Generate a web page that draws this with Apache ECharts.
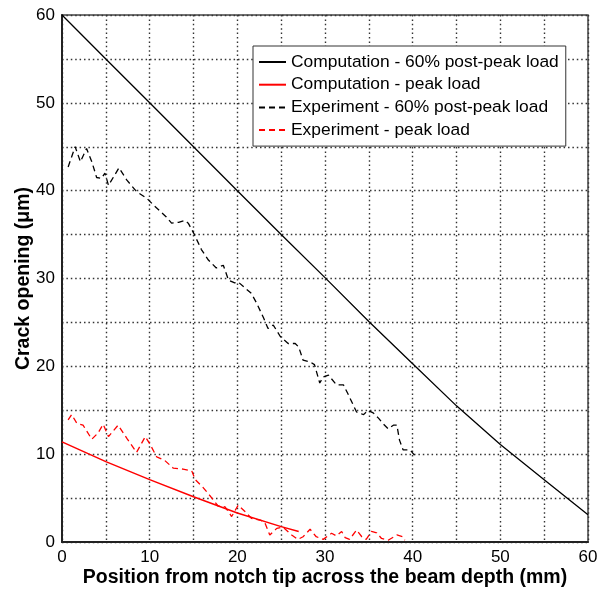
<!DOCTYPE html>
<html>
<head>
<meta charset="utf-8">
<script src="https://cdn.jsdelivr.net/npm/echarts@6/dist/echarts.min.js"></script>
<style>
  html, body { margin: 0; padding: 0; background: #fff; }
  #chart { width: 609px; height: 591px; }
</style>
</head>
<body>
<div id="chart"></div>
<script>
// Crack opening profiles along the beam depth
var seriesNames = [
  'Computation - 60% post-peak load',
  'Computation - peak load',
  'Experiment - 60% post-peak load',
  'Experiment - peak load'
];

// Computed profile, 60% post-peak load
var compPostX = [0, 5, 10, 15, 20, 25, 30, 35, 40, 45, 50, 55, 60];
var compPostY = [60, 55, 50, 45, 40, 35, 30.1, 25.1, 20.3, 15.5, 11.1, 7.1, 3.1];

// Computed profile, peak load
var compPeakX = [0, 5, 10, 15, 20, 25, 27];
var compPeakY = [11.4, 9.15, 7.1, 5.15, 3.3, 1.75, 1.2];

// Measured profile, 60% post-peak load
var expPostX = [0.7, 1.5, 2.1, 2.8, 3.4, 3.95, 4.5, 4.9, 5.3, 6.5, 7.4, 8.5, 9.7, 10.4, 11.9, 12.5,
  13.3, 14.0, 14.4, 15.0, 15.9, 16.7, 17.6, 18.4, 19.0, 19.7, 20.1, 20.9, 21.6, 22.2, 23.0, 23.5,
  24.1, 24.9, 25.8, 26.6, 27.0, 27.5, 28.3, 28.8, 29.4, 29.8, 30.4, 31.3, 32.1, 32.6, 33.6, 34.4,
  34.9, 35.5, 36.1, 36.6, 37.2, 37.8, 38.2, 38.5, 38.9, 39.7, 40.2];
var expPostY = [42.7, 45.0, 43.3, 44.8, 43.3, 41.5, 41.4, 42.0, 40.6, 42.6, 41.2, 39.9, 39.1, 38.4, 37.0, 36.3,
  36.4, 36.6, 36.3, 35.2, 33.3, 32.1, 31.2, 31.5, 29.8, 29.5, 29.6, 28.9, 28.3, 27.2, 25.5, 24.3,
  24.7, 23.4, 22.6, 22.6, 22.2, 20.7, 20.5, 20.2, 18.1, 18.8, 19.0, 17.9, 17.9, 16.9, 14.8, 14.5,
  15.0, 14.7, 14.1, 13.5, 12.9, 13.3, 13.3, 11.6, 10.5, 10.5, 9.9];

// Measured profile, peak load
var expPeakX = [0.7, 1.1, 1.7, 2.4, 3.4, 4.1, 4.7, 5.3, 6.4, 7.4, 8.5, 9.5, 10.0, 10.8, 11.7, 12.7,
  13.8, 14.8, 15.2, 16.1, 17.1, 17.8, 18.6, 19.35, 20.1, 20.9, 21.6, 22.6, 23.1, 23.7, 24.5, 25.2,
  26.2, 26.9, 27.5, 28.3, 29.0, 29.8, 30.75, 31.3, 31.9, 32.3, 32.8, 33.6, 34.2, 34.7, 35.3, 35.9,
  36.45, 37.2, 38.2, 38.9, 39.1];
var expPeakY = [13.9, 14.5, 13.5, 13.3, 11.7, 12.4, 13.4, 12.0, 13.3, 11.8, 10.2, 12.0, 11.2, 9.7, 9.3, 8.4,
  8.3, 8.1, 7.1, 6.2, 5.0, 4.1, 4.0, 2.9, 4.2, 3.45, 2.7, 2.5, 2.3, 0.8, 1.55, 1.7,
  0.8, 0.3, 0.6, 1.45, 0.6, 0.3, 1.0, 0.7, 1.2, 0.5, 0.3, 1.35, 0.6, 0.3, 1.2, 1.05,
  0.4, 0.2, 0.8, 0.6, 0.2];

// Axis ticks (grid every 5, labels every 10)
var axisMin = 0, axisMax = 60, gridStep = 5, labelStep = 10;
var xTitle = 'Position from notch tip across the beam depth (mm)';
var yTitle = 'Crack opening (\u03bcm)';

function zip(xs, ys) {
  return xs.map(function (x, i) { return [x, ys[i]]; });
}

var FONT = "'Liberation Sans', Arial, Helvetica, sans-serif";

function axisBase(name, gap) {
  return {
    type: 'value',
    min: axisMin,
    max: axisMax,
    interval: gridStep,
    name: name,
    nameLocation: 'middle',
    nameGap: gap,
    nameMoveOverlap: false,
    nameTextStyle: { fontFamily: FONT, fontWeight: 'bold', fontSize: 19.5, color: '#000' },
    axisLine: { show: true, onZero: false, lineStyle: { color: '#222', width: 2 } },
    axisTick: { show: false },
    axisLabel: {
      fontFamily: FONT, fontSize: 17, color: '#000', margin: 7,
      formatter: function (v) { return v % labelStep === 0 ? String(v) : ''; }
    },
    splitLine: { show: true, lineStyle: { color: '#333', width: 1.4, type: [1.5, 2.9] } }
  };
}

var chart = echarts.init(document.getElementById('chart'), null, { renderer: 'canvas' });

chart.setOption({
  animation: false,
  backgroundColor: '#fff',
  grid: {
    left: 62, right: 21, top: 15, bottom: 49,
    containLabel: false,
    outerBoundsMode: 'none',
    show: true, borderColor: '#444', borderWidth: 1.5, backgroundColor: 'transparent'
  },
  xAxis: axisBase(xTitle, 26),
  yAxis: axisBase(yTitle, 28),
  legend: {
    orient: 'vertical',
    left: 253, top: 46,
    data: seriesNames,
    backgroundColor: '#fff',
    borderColor: '#333', borderWidth: 1, borderRadius: 0,
    padding: [6, 7, 6, 5],
    itemWidth: 27, itemHeight: 20, itemGap: 2.7,
    // keep only the line sample in each legend key
    itemStyle: { color: 'transparent', borderColor: 'transparent', borderWidth: 0, opacity: 0 },
    textStyle: { fontFamily: FONT, fontSize: 17.4, color: '#000', lineHeight: 20 },
    selectedMode: false
  },
  series: [
    {
      name: seriesNames[0], type: 'line', data: zip(compPostX, compPostY),
      symbol: 'none', smooth: false,
      lineStyle: { color: '#000', width: 1.3, type: 'solid' },
      itemStyle: { color: '#000' }
    },
    {
      name: seriesNames[1], type: 'line', data: zip(compPeakX, compPeakY),
      symbol: 'none', smooth: false,
      lineStyle: { color: '#ff0000', width: 1.5, type: 'solid' },
      itemStyle: { color: '#ff0000' }
    },
    {
      name: seriesNames[2], type: 'line', data: zip(expPostX, expPostY),
      symbol: 'none', smooth: false,
      lineStyle: { color: '#000', width: 1.3, type: [6, 4] },
      itemStyle: { color: '#000' }
    },
    {
      name: seriesNames[3], type: 'line', data: zip(expPeakX, expPeakY),
      symbol: 'none', smooth: false,
      lineStyle: { color: '#ff0000', width: 1.3, type: [6, 4] },
      itemStyle: { color: '#ff0000' }
    }
  ]
});
</script>
</body>
</html>
